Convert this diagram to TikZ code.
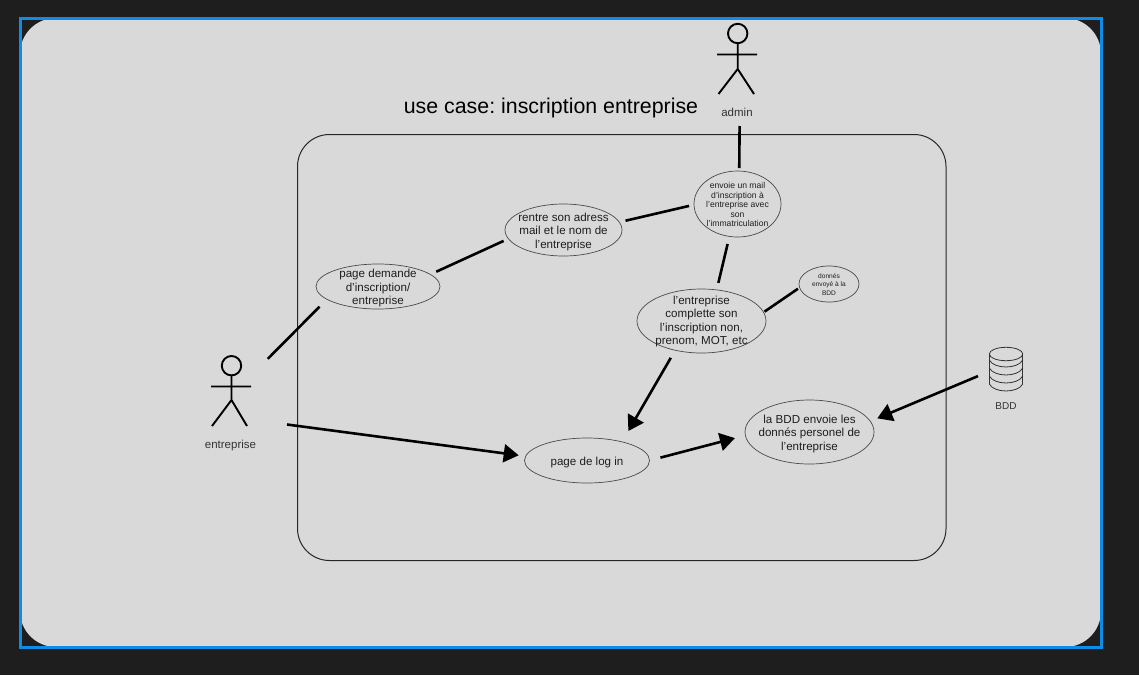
\documentclass[tikz,border=0pt]{standalone}
\usepackage{fontspec}
\setmainfont{Liberation Sans}
\usetikzlibrary{shapes.geometric,arrows.meta}
\definecolor{bgdark}{HTML}{1E1E1E}
\definecolor{panel}{HTML}{D9D9D9}
\definecolor{selblue}{HTML}{0D8DE8}
\definecolor{ink}{HTML}{1E1E1E}
\definecolor{thin}{HTML}{333333}
\definecolor{edge}{HTML}{4A4A4A}
\newcommand{\ctext}[3]{\makebox[0pt]{\smash{\fontsize{#1}{#2}\selectfont\raisebox{-.45em}{\begin{tabular}[c]{@{}c@{}}#3\end{tabular}}}}}
\tikzset{
  usecase/.style n args={2}{draw=edge,line width=.7pt,ellipse,inner sep=0pt,outer sep=0pt,minimum width=#1pt,minimum height=#2pt,text=ink},
  actorbox/.style n args={2}{inner sep=0pt,outer sep=0pt,minimum width=#1pt,minimum height=#2pt},
  stick/.style={draw=black,line width=1.9pt},
  assoc/.style={draw=black,line width=2.6pt},
  flow/.style={draw=black,line width=2.6pt,-{Triangle[length=15pt,width=18pt]}},
  caption/.style={inner sep=0pt,text=thin,font=\fontsize{11.5}{13}\selectfont},
  dbline/.style={draw=thin,line width=.8pt}
}
\begin{document}
\begin{tikzpicture}[x=1pt,y=-1pt]
\useasboundingbox (0,0) rectangle (1139,675);
\fill[bgdark] (0,0) rectangle (1139,675);
\fill[panel,rounded corners=36pt] (20,18) rectangle (1101,647);
\draw[selblue,line width=3pt] (20.5,18.5) rectangle (1101.5,647.2);
\draw[black!85,line width=1pt,rounded corners=32pt] (297.5,134.5) rectangle (946,560.5);
\node[inner sep=0pt,text=black,font=\fontsize{21.35}{24}\selectfont\frenchspacing] (title) at (551,108) {use case: inscription entreprise};

% actors
\node[actorbox={44}{100}] (admin) at (737,72) {};
\draw[stick] (737.7,33.5) circle (9.7);
\draw[stick] (737.7,43) -- (737.7,69) (717,54.5) -- (757,54.5) (718.5,94) -- (737.7,69) -- (754,94);
\node[caption] (adminlbl) at (737,112.5) {admin};

\node[actorbox={44}{100}] (ent) at (231,404) {};
\draw[stick] (231.5,365.7) circle (9.7);
\draw[stick] (231.5,375.5) -- (231.5,400) (211,386.5) -- (251,386.5) (212,426) -- (231.5,400) -- (247,426);
\node[caption] (entlbl) at (230.5,446) {entreprise};

% database
\node[actorbox={40}{66}] (bdd) at (1006,380) {};
\draw[dbline] (1006,354) ellipse (16.7 and 6.7);
\draw[dbline] (989.3,354) -- (989.3,384) (1022.7,354) -- (1022.7,384);
\draw[dbline] (989.3,360) .. controls (994,369.3) and (1018,369.3) .. (1022.7,360);
\draw[dbline] (989.3,368) .. controls (994,377.3) and (1018,377.3) .. (1022.7,368);
\draw[dbline] (989.3,376) .. controls (994,385.3) and (1018,385.3) .. (1022.7,376);
\draw[dbline] (989.3,384) .. controls (994,393.3) and (1018,393.3) .. (1022.7,384);
\node[caption,font=\fontsize{10}{12}\selectfont] (bddlbl) at (1006,406.5) {BDD};

% use cases
\node[usecase={124}{45}] (pagedemande) at (378,286.5) {\ctext{11.6}{13.5}{page demande\\d’inscription/\\entreprise}};
\node[usecase={117}{52}] (rentre) at (563.5,230) {\ctext{11.6}{13.5}{rentre son adress\\mail et le nom de\\l’entreprise}};
\node[usecase={87}{66}] (envoie) at (737.5,204) {\ctext{8.6}{9.5}{envoie un mail\\d’inscription à\\l’entreprise avec\\son\\l’immatriculation}};
\node[usecase={129}{64}] (complete) at (701.5,321) {\raisebox{3pt}{\ctext{11.6}{13.5}{l’entreprise\\complette son\\l’inscription non,\\prenom, MOT, etc}}};
\node[usecase={60}{36}] (donnes) at (829,284) {\ctext{6.6}{8.2}{donnés\\envoyé à la\\BDD}};
\node[usecase={125}{45}] (login) at (587,460.5) {\ctext{11.6}{13.5}{page de log in}};
\node[usecase={129}{64}] (bddenvoie) at (809.5,432) {\ctext{11.6}{13.5}{la BDD envoie les\\donnés personel de\\l’entreprise}};

% connectors
\draw[assoc,shorten <=21pt,shorten >=10.5pt] (ent.54.9) -- (pagedemande.194.5);
\draw[assoc,shorten <=6.5pt,shorten >=5.2pt] (pagedemande.13) -- (rentre.189.2);
\draw[assoc,shorten <=6.4pt,shorten >=5.1pt] (rentre.8.9) -- (envoie.181.2);
\draw[assoc,shorten <=4pt,shorten >=3pt] (admin.-87.7) -- (envoie.87.4);
\draw[assoc,shorten <=7.8pt,shorten >=7.2pt] (envoie.256.3) -- (complete.64.6);
\draw[assoc,shorten <=1.2pt,shorten >=2pt] (complete.8.9) -- (donnes.187.3);
\draw[flow,shorten <=8.8pt,shorten >=12.6pt] (complete.228.5) -- (login.28.3);
\draw[flow,shorten <=34.3pt,shorten >=7pt] (ent.-36.7) -- (login.176.8);
\draw[flow,shorten <=11.3pt,shorten >=10.8pt] (login.0.65) -- (bddenvoie.183);
\draw[flow,shorten <=8.7pt,shorten >=7.6pt] (bdd.160) -- (bddenvoie.10.4);
\end{tikzpicture}
\end{document}
